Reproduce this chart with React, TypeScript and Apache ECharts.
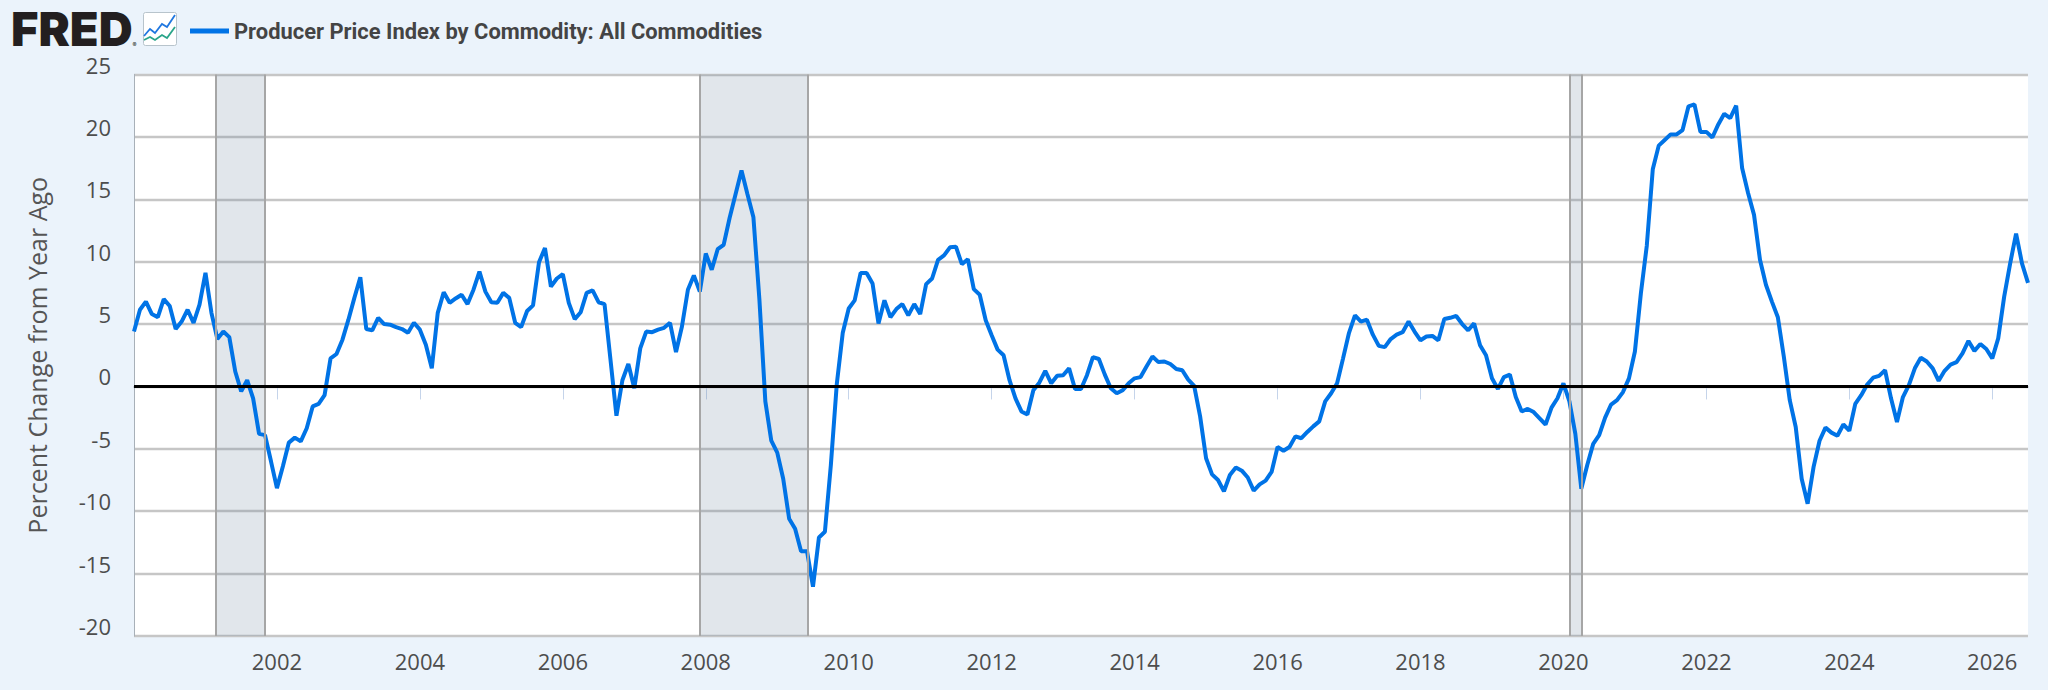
import React, { useEffect, useRef } from "react";
import * as echarts from "echarts";

const seriesName = "Producer Price Index by Commodity: All Commodities";
const yAxisName = "Percent Change from Year Ago";

const y2000 = [4.4, 6.15, 6.8, 5.8, 5.55, 7.0, 6.45, 4.6, 5.2, 6.15, 5.1, 6.55];
const y2001 = [9.1, 5.9, 3.8, 4.4, 3.95, 1.2, -0.4, 0.5, -0.95, -3.8, -3.9, -6.0];
const y2002 = [-8.15, -6.4, -4.5, -4.1, -4.4, -3.35, -1.6, -1.4, -0.7, 2.25, 2.6, 3.75];
const y2003 = [5.35, 7.1, 8.75, 4.6, 4.5, 5.5, 5.0, 4.95, 4.75, 4.6, 4.3, 5.1];
const y2004 = [4.55, 3.35, 1.45, 5.9, 7.55, 6.7, 7.05, 7.35, 6.6, 7.75, 9.2, 7.6];
const y2005 = [6.75, 6.7, 7.5, 7.1, 5.1, 4.75, 6.05, 6.5, 9.95, 11.1, 8.0, 8.65];
const y2006 = [9.0, 6.7, 5.4, 5.95, 7.5, 7.7, 6.75, 6.6, 2.15, -2.35, 0.5, 1.8];
const y2007 = [-0.15, 3.05, 4.4, 4.35, 4.55, 4.7, 5.1, 2.75, 4.8, 7.75, 8.9, 7.6];
const y2008 = [10.65, 9.35, 11.0, 11.35, 13.5, 15.4, 17.3, 15.4, 13.55, 7.0, -1.2, -4.35];
const y2009 = [-5.3, -7.4, -10.6, -11.4, -13.2, -13.2, -16.05, -12.1, -11.65, -6.3, 0.2, 4.3];
const y2010 = [6.25, 6.9, 9.1, 9.1, 8.25, 5.05, 6.9, 5.55, 6.2, 6.6, 5.7, 6.6];
const y2011 = [5.8, 8.2, 8.65, 10.15, 10.5, 11.15, 11.2, 9.8, 10.2, 7.8, 7.35, 5.3];
const y2012 = [4.1, 2.95, 2.5, 0.5, -0.95, -2.0, -2.25, -0.3, 0.3, 1.25, 0.25, 0.85];
const y2013 = [0.9, 1.45, -0.2, -0.2, 0.9, 2.35, 2.2, 0.95, -0.15, -0.55, -0.3, 0.25];
const y2014 = [0.65, 0.75, 1.6, 2.4, 1.95, 2.0, 1.8, 1.4, 1.3, 0.55, 0.05, -2.4];
const y2015 = [-5.75, -7.05, -7.5, -8.4, -7.1, -6.5, -6.75, -7.3, -8.35, -7.85, -7.55, -6.85];
const y2016 = [-4.85, -5.15, -4.85, -4.0, -4.15, -3.65, -3.2, -2.8, -1.2, -0.55, 0.25, 2.25];
const y2017 = [4.3, 5.7, 5.2, 5.35, 4.15, 3.25, 3.15, 3.8, 4.15, 4.35, 5.2, 4.4];
const y2018 = [3.7, 4.0, 4.05, 3.7, 5.4, 5.5, 5.65, 5.0, 4.5, 5.05, 3.3, 2.5];
const y2019 = [0.65, -0.2, 0.75, 0.95, -0.85, -2.0, -1.8, -2.05, -2.55, -3.05, -1.7, -0.95];
const y2020 = [0.25, -1.2, -3.8, -8.2, -6.3, -4.6, -3.9, -2.5, -1.45, -1.1, -0.45, 0.65];
const y2021 = [2.8, 7.45, 11.3, 17.4, 19.3, 19.75, 20.2, 20.2, 20.55, 22.45, 22.6, 20.4];
const y2022 = [20.4, 19.95, 21.0, 21.85, 21.5, 22.5, 17.5, 15.5, 13.75, 10.15, 8.15, 6.8];
const y2023 = [5.55, 2.4, -1.1, -3.25, -7.4, -9.4, -6.45, -4.35, -3.3, -3.7, -3.95, -3.05];
const y2024 = [-3.55, -1.4, -0.7, 0.15, 0.7, 0.85, 1.3, -0.95, -2.85, -0.85, 0.1, 1.45];
const y2025 = [2.3, 2.0, 1.45, 0.45, 1.25, 1.75, 1.95, 2.65, 3.65, 2.85, 3.4, 3.0];
const y2026 = [2.25, 3.85, 7.2, 9.85, 12.25, 9.85, 8.3];

const years = [
  y2000, y2001, y2002, y2003, y2004, y2005, y2006, y2007, y2008, y2009, y2010, y2011, y2012, y2013,
  y2014, y2015, y2016, y2017, y2018, y2019, y2020, y2021, y2022, y2023, y2024, y2025, y2026,
];
const startYear = 2000;
const endYear = 2026.5;
const xTicks = [2002, 2004, 2006, 2008, 2010, 2012, 2014, 2016, 2018, 2020, 2022, 2024, 2026];
const recessions = [
  [2001.155, 2001.83],
  [2007.92, 2009.42],
  [2020.09, 2020.25],
];

const points = years.flatMap((vals, y) => vals.map((v, m) => [startYear + y + m / 12, v]));

const BLUE = "#0073e6";

export default function App() {
  const ref = useRef<HTMLDivElement>(null);
  useEffect(() => {
    const chart = echarts.init(ref.current!, null, { renderer: "svg" });
    chart.setOption({
      animation: false,
      backgroundColor: "#ebf3fb",
      textStyle: { fontFamily: "Open Sans" },
      grid: {
        show: true,
        left: 134,
        right: 20,
        top: 74.5,
        bottom: 54,
        backgroundColor: "#ffffff",
        borderWidth: 0,
        containLabel: false,
      },
      legend: {
        left: 185,
        top: 15,
        icon: "rect",
        itemWidth: 39,
        itemHeight: 5,
        itemGap: 8,
        data: [seriesName],
        textStyle: {
          fontFamily: "Roboto",
          fontWeight: 700,
          fontSize: 21.9,
          color: "#444444",
        },
      },
      xAxis: {
        type: "value",
        min: startYear,
        max: endYear,
        splitLine: { show: false },
        axisLine: { show: true, lineStyle: { color: "#c5ccd8", width: 2 } },
        axisTick: {
          show: true,
          length: 13,
          lineStyle: { color: "#c5d4ea", width: 1 },
          customValues: xTicks,
        },
        axisLabel: {
          margin: 14,
          fontFamily: "Open Sans",
          fontSize: 22,
          color: "#4d4d4d",
          customValues: xTicks,
          formatter: (v: number) => String(v),
        },
      },
      yAxis: {
        type: "value",
        min: -20,
        max: 25,
        interval: 5,
        name: yAxisName,
        nameLocation: "middle",
        nameRotate: 90,
        nameGap: 85,
        nameTextStyle: { fontFamily: "Open Sans", fontSize: 25, color: "#555555" },
        splitLine: { show: true, lineStyle: { color: "#c6c6c6", width: 2.3 } },
        axisTick: { show: false },
        axisLine: { show: true, onZero: false, lineStyle: { color: "#a8b0b8", width: 1 } },
        axisLabel: {
          margin: 23,
          fontFamily: "Open Sans",
          fontSize: 22,
          lineHeight: 20,
          color: "#4d4d4d",
          verticalAlign: "bottom",
        },
      },
      series: [
        {
          name: "Recessions",
          type: "line",
          z: 1,
          silent: true,
          data: [],
          markArea: {
            silent: true,
            itemStyle: { color: "rgba(105,130,155,0.2)" },
            data: recessions.map(([a, b]) => [{ xAxis: a }, { xAxis: b }]),
          },
          markLine: {
            silent: true,
            symbol: "none",
            label: { show: false },
            lineStyle: { color: "#a6a6a6", width: 2, type: "solid" },
            data: recessions.flat().map((x) => ({ xAxis: x })),
          },
        },
        {
          name: seriesName,
          type: "line",
          z: 2,
          data: points,
          showSymbol: false,
          symbol: "none",
          clip: true,
          color: BLUE,
          lineStyle: { color: BLUE, width: 4, join: "bevel" },
        },
        {
          name: "Zero",
          type: "line",
          z: 3,
          silent: true,
          data: [],
          markLine: {
            silent: true,
            symbol: "none",
            label: { show: false },
            lineStyle: { color: "#000000", width: 3, type: "solid" },
            data: [{ yAxis: 0 }],
          },
        },
      ],
      graphic: [
        {
          type: "text",
          x: 11,
          y: 9,
          style: {
            text: "{a|FRED}{b|®}",
            rich: {
              a: {
                fontFamily: "Inter",
                fontWeight: 900,
                fontSize: 47,
                lineHeight: 38,
                fill: "#231f20",
                color: "#231f20",
              },
              b: {
                fontFamily: "Inter",
                fontSize: 6,
                lineHeight: 38,
                verticalAlign: "bottom",
                fill: "#231f20",
                color: "#231f20",
              },
            },
          },
        },
        {
          type: "rect",
          shape: { x: 143.5, y: 12.5, width: 33, height: 33, r: 2 },
          style: { fill: "#ffffff", stroke: "#b8c4cc", lineWidth: 1 },
        },
        {
          type: "polyline",
          shape: { points: [[144, 36], [150, 29], [155, 33], [162, 24], [167, 27], [175, 15]] },
          style: { fill: "none", stroke: "#1f77e0", lineWidth: 1.8 },
        },
        {
          type: "polyline",
          shape: { points: [[144, 40], [150, 37], [155, 40], [162, 35], [167, 38], [175, 27]] },
          style: { fill: "none", stroke: "#2aa58a", lineWidth: 1.8 },
        },
      ],
    });
    return () => chart.dispose();
  }, []);
  return (
    <div
      ref={ref}
      style={{ position: "fixed", left: 0, top: 0, width: 2048, height: 690 }}
    />
  );
}
